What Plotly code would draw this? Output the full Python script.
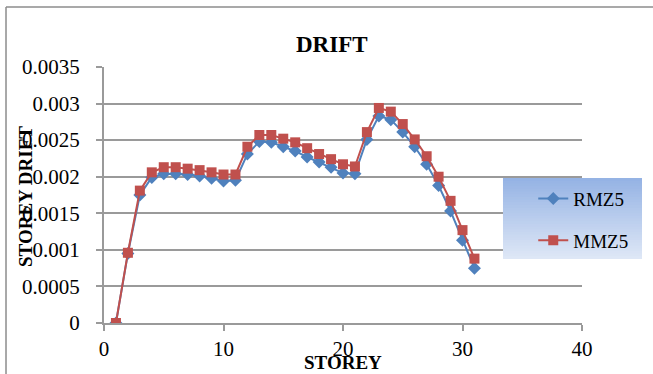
import plotly.graph_objects as go

storey = list(range(1, 32))
rmz5 = [0.0, 0.00095, 0.00175, 0.00199, 0.00204, 0.00204, 0.00203, 0.00201, 0.00198, 0.00194,
        0.00195, 0.00231, 0.00248, 0.00247, 0.00241, 0.00235, 0.00227, 0.00220, 0.00213, 0.00205,
        0.00204, 0.00251, 0.00283, 0.00278, 0.00261, 0.00241, 0.00217, 0.00188, 0.00153, 0.00113,
        0.00075]
mmz5 = [0.0, 0.00096, 0.00181, 0.00206, 0.00213, 0.00213, 0.00211, 0.00209, 0.00206, 0.00203,
        0.00203, 0.00241, 0.00257, 0.00257, 0.00252, 0.00247, 0.00239, 0.00231, 0.00224, 0.00217,
        0.00214, 0.00261, 0.00294, 0.00289, 0.00272, 0.00251, 0.00228, 0.00200, 0.00167, 0.00127,
        0.00088]
y_tickvals = [0, 0.0005, 0.001, 0.0015, 0.002, 0.0025, 0.003, 0.0035]
y_ticktext = ["0", "0.0005", "0.001", "0.0015", "0.002", "0.0025", "0.003", "0.0035"]
x_tickvals = [0, 10, 20, 30, 40]

FONT = "Liberation Serif, serif"
GRID = "#9a9a9a"

fig = go.Figure()
fig.add_trace(go.Scatter(x=storey, y=rmz5, name="RMZ5", mode="lines+markers",
                         legendgroup="a",
                         line=dict(color="#4F81BD", width=2),
                         marker=dict(symbol="diamond", size=10, color="#4F81BD")))
fig.add_trace(go.Scatter(x=storey, y=mmz5, name="MMZ5", mode="lines+markers",
                         legendgroup="b",
                         line=dict(color="#C0504D", width=2),
                         marker=dict(symbol="square", size=10, color="#C0504D")))

shapes = []
# gradient legend background
top = (149, 179, 228)
bot = (222, 231, 246)
n = 30
y_top, y_bot = 0.566, 0.25
h = (y_top - y_bot) / n
for i in range(n):
    t = i / (n - 1)
    c = tuple(round(top[k] + (bot[k] - top[k]) * t) for k in range(3))
    y1 = y_top - h * i
    y0 = max(y_bot, y1 - h * 1.8)
    shapes.append(dict(type="rect", xref="paper", yref="paper", x0=0.8347, x1=1.1255,
                       y0=y0, y1=y1, fillcolor="rgb(%d,%d,%d)" % c, line=dict(width=0),
                       layer="above"))
# outer frame
shapes.append(dict(type="line", xref="paper", yref="paper", x0=-0.205, x1=-0.205, y0=-0.3, y1=1.234,
                   line=dict(color="#8c8c8c", width=1.5)))
shapes.append(dict(type="line", xref="paper", yref="paper", x0=-0.205, x1=1.2, y0=1.234, y1=1.234,
                   line=dict(color="#8c8c8c", width=1.5)))

fig.update_layout(
    width=653, height=374, autosize=False,
    margin=dict(l=104, r=71, t=67, b=51),
    paper_bgcolor="white", plot_bgcolor="white",
    font=dict(family=FONT, size=20, color="black"),
    showlegend=True,
    legend=dict(x=0.898, y=0.56, xanchor="left", yanchor="top", bgcolor="rgba(0,0,0,0)",
                font=dict(family=FONT, size=19, color="black"),
                traceorder="grouped", tracegroupgap=14, itemwidth=30),
    shapes=shapes,
    annotations=[
        dict(text="<b>DRIFT</b>", xref="paper", yref="paper", x=(332 - 104) / 478, y=(323 - 44) / 256,
             showarrow=False, font=dict(family=FONT, size=23), xanchor="center", yanchor="middle"),
        dict(text="<b>STOREY</b>", xref="paper", yref="paper", x=(343 - 104) / 478, y=(323 - 362) / 256,
             showarrow=False, font=dict(family=FONT, size=19), xanchor="center", yanchor="middle"),
        dict(text="<b>STOREY DRIFT</b>", xref="paper", yref="paper", x=(25 - 104) / 478, y=(323 - 197) / 256,
             showarrow=False, textangle=-90, font=dict(family=FONT, size=19), xanchor="center", yanchor="middle"),
    ],
)
fig.update_xaxes(range=[0, 40], tickvals=x_tickvals, showgrid=False, zeroline=False,
                 showline=True, linecolor=GRID, linewidth=2,
                 ticks="outside", ticklen=6, tickwidth=2, tickcolor=GRID,
                 tickfont=dict(family=FONT, size=21))
fig.update_yaxes(range=[0, 0.0035], tickvals=y_tickvals, ticktext=y_ticktext,
                 showgrid=True, gridcolor=GRID, gridwidth=2, zeroline=False,
                 showline=True, linecolor=GRID, linewidth=2,
                 ticks="outside", ticklen=6, tickwidth=2, tickcolor=GRID,
                 ticklabelstandoff=12,
                 tickfont=dict(family=FONT, size=21))

fig.write_html("out.html")
